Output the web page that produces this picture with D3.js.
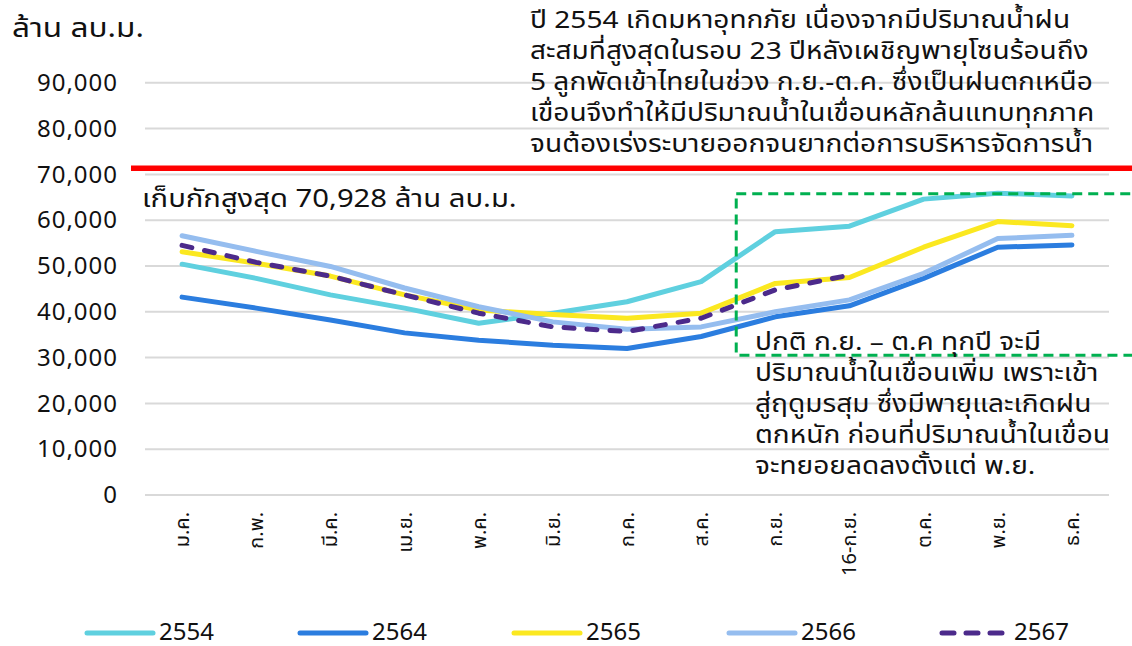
<!DOCTYPE html>
<html>
<head>
<meta charset="utf-8">
<script src="https://cdn.jsdelivr.net/npm/d3@7"></script>
<style>
  body { margin: 0; background: #fff; }
  text { font-family: "Noto Sans Thai", "Noto Sans", "DejaVu Sans", sans-serif; fill: #111; }
</style>
</head>
<body>
<script>
// data
const months = ["ม.ค.", "ก.พ.", "มี.ค.", "เม.ย.", "พ.ค.", "มิ.ย.", "ก.ค.", "ส.ค.", "ก.ย.", "16-ก.ย.", "ต.ค.", "พ.ย.", "ธ.ค."];
const years = ["2554", "2564", "2565", "2566", "2567"];
const v2554 = [50400, 47300, 43700, 40800, 37500, 39700, 42200, 46600, 57500, 58700, 64600, 65900, 65300];
const v2564 = [43200, 40800, 38200, 35400, 33800, 32700, 32000, 34600, 38900, 41300, 47300, 54100, 54600];
const v2565 = [53100, 50600, 47800, 43700, 40400, 39400, 38600, 39700, 46200, 47500, 54100, 59700, 58800];
const v2566 = [56600, 53200, 49900, 45200, 41100, 37800, 36200, 36700, 40000, 42600, 48400, 56000, 56700];
const v2567 = [54500, 50800, 47800, 43700, 39700, 36700, 35700, 38600, 44800, 48000, null, null, null];
const yTicks = [0, 10000, 20000, 30000, 40000, 50000, 60000, 70000, 80000, 90000];
const maxStorage = 70928;
const boxRange = [30500, 65800];   // green dashed box, value span
const noteTop = [
  "ปี 2554 เกิดมหาอุทกภัย เนื่องจากมีปริมาณน้ำฝน",
  "สะสมที่สูงสุดในรอบ 23 ปีหลังเผชิญพายุโซนร้อนถึง",
  "5 ลูกพัดเข้าไทยในช่วง ก.ย.-ต.ค. ซึ่งเป็นฝนตกเหนือ",
  "เขื่อนจึงทำให้มีปริมาณน้ำในเขื่อนหลักล้นแทบทุกภาค",
  "จนต้องเร่งระบายออกจนยากต่อการบริหารจัดการน้ำ"
];
const noteBox = [
  "ปกติ ก.ย. – ต.ค ทุกปี จะมี",
  "ปริมาณน้ำในเขื่อนเพิ่ม เพราะเข้า",
  "สู่ฤดูมรสุม ซึ่งมีพายุและเกิดฝน",
  "ตกหนัก ก่อนที่ปริมาณน้ำในเขื่อน",
  "จะทยอยลดลงตั้งแต่ พ.ย."
];

const series = [
  { name: "2554", values: v2554, color: "#5fd0df", dash: null },
  { name: "2564", values: v2564, color: "#2b7ddf", dash: null },
  { name: "2565", values: v2565, color: "#fbe820", dash: null },
  { name: "2566", values: v2566, color: "#95bdef", dash: null },
  { name: "2567", values: v2567, color: "#4c2a8b", dash: "10,13" }
];

const W = 1132, H = 646;
const svg = d3.select("body").append("svg").attr("width", W).attr("height", H);

const x = d3.scaleBand().domain(months).range([145, 1109]).padding(0);
const y = d3.scaleLinear().domain([0, 90000]).range([495, 82.8]);

// gridlines
svg.append("g")
  .selectAll("line").data(yTicks).enter().append("line")
    .attr("x1", 145).attr("x2", 1109)
    .attr("y1", d => y(d)).attr("y2", d => y(d))
    .attr("stroke", "#d9d9d9").attr("stroke-width", 2);

// y axis labels
const yAxis = svg.append("g")
  .attr("transform", "translate(127,0)")
  .call(d3.axisLeft(y).tickValues(yTicks).tickSize(0).tickPadding(9).tickFormat(d3.format(",")));
yAxis.select(".domain").remove();
yAxis.selectAll("text").style("font-size", "24px").style("letter-spacing", "1px").attr("fill", "#111")
  .style("font-family", "'Noto Sans', 'DejaVu Sans', sans-serif");

// x labels, rotated
const xAxis = svg.append("g")
  .attr("transform", "translate(0,512)")
  .call(d3.axisBottom(x).tickSize(0).tickPadding(0));
xAxis.select(".domain").remove();
xAxis.selectAll("text")
  .style("font-size", "20px")
  .attr("fill", "#111")
  .attr("transform", "rotate(-90)")
  .attr("x", 0).attr("y", 0).attr("dy", "0.35em")
  .style("text-anchor", "end");

// lines
const line = d3.line()
  .defined(d => d != null)
  .x((d, i) => x(months[i]) + x.bandwidth() / 2)
  .y(d => y(d));

svg.append("g")
  .selectAll("path").data(series).enter().append("path")
    .attr("fill", "none")
    .attr("stroke", d => d.color)
    .attr("stroke-width", 5)
    .attr("stroke-linecap", "round")
    .attr("stroke-linejoin", "round")
    .attr("stroke-dasharray", d => d.dash)
    .attr("d", d => line(d.values));

// max storage line
svg.append("line")
  .attr("x1", 131).attr("x2", W)
  .attr("y1", y(maxStorage) - 2).attr("y2", y(maxStorage) - 2)
  .attr("stroke", "#ff0000").attr("stroke-width", 5.5);

// green dashed box
svg.append("rect")
  .attr("x", x("ก.ย.") - 2)
  .attr("y", y(boxRange[1]))
  .attr("width", W - x("ก.ย.") + 20)
  .attr("height", y(boxRange[0]) - y(boxRange[1]))
  .attr("fill", "none")
  .attr("stroke", "#00b050")
  .attr("stroke-width", 3)
  .attr("stroke-dasharray", "10,6");

// texts (stretched a bit wider to match the original Thai face)
const sx = 1.17;
function wideText(g, tx, ty, size, str) {
  return g.append("text")
    .attr("transform", `translate(${tx},${ty}) scale(${sx},1)`)
    .style("font-size", size + "px")
    .text(str);
}

wideText(svg, 12, 37, 27, "ล้าน ลบ.ม.").attr("fill", "#333");
wideText(svg, 142, 207, 25, "เก็บกักสูงสุด " + d3.format(",")(maxStorage) + " ล้าน ลบ.ม.");

const gTop = svg.append("g");
noteTop.forEach((d, i) => wideText(gTop, 530, 28 + i * 31, 24, d));
const gBox = svg.append("g");
noteBox.forEach((d, i) => wideText(gBox, 755, 350 + i * 31, 24, d));

// legend
const legendX = [85, 298, 512, 727, 940];
const lg = svg.append("g").selectAll("g").data(series).enter().append("g")
  .attr("transform", (d, i) => `translate(${legendX[i]},633)`);
lg.append("line")
  .attr("x1", 2).attr("x2", 68)
  .attr("stroke", d => d.color).attr("stroke-width", 5)
  .attr("stroke-linecap", "round")
  .attr("stroke-dasharray", d => d.dash ? "12,12" : null);
lg.append("text")
  .attr("x", 74).attr("y", 7)
  .style("font-size", "24px")
  .style("font-family", "'Liberation Sans Narrow', 'Noto Sans', sans-serif")
  .text(d => d.name);
</script>
</body>
</html>
